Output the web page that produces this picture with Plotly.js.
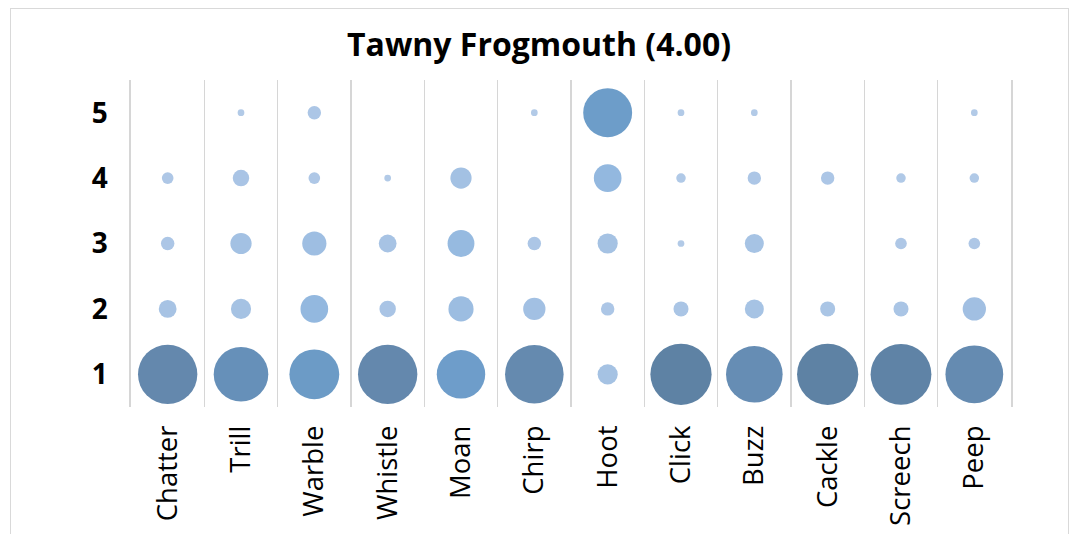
<!DOCTYPE html>
<html>
<head>
<meta charset="utf-8">
<script src="https://cdn.plot.ly/plotly-3.0.1.min.js"></script>
<style>
  html, body { margin: 0; padding: 0; background: #ffffff; }
  #wrap { position: relative; width: 1071px; height: 534px; overflow: hidden; }
  #chart { width: 1071px; height: 534px; }
  #frame { position: absolute; left: 10px; top: 8px; width: 1059px; height: 600px;
           border: 1px solid #d9d9d9; box-sizing: border-box; pointer-events: none; }
</style>
</head>
<body>
<div id="wrap">
  <div id="chart"></div>
  <div id="frame"></div>
</div>
<script>
// ---- data ----
const chartTitle = 'Tawny Frogmouth (4.00)';
const categories = ['Chatter', 'Trill', 'Warble', 'Whistle', 'Moan', 'Chirp',
                    'Hoot', 'Click', 'Buzz', 'Cackle', 'Screech', 'Peep'];
const levels = [1, 2, 3, 4, 5];
// counts per rating level, one value per category
const level1 = [78, 66, 55, 78, 52, 76,  9, 83, 71, 83, 82, 74];
const level2 = [ 7,  9, 17,  6, 14, 11,  4,  5,  8,  5,  5, 12];
const level3 = [ 4, 10, 13,  7, 16,  4,  9,  1,  8,  0,  3,  3];
const level4 = [ 3,  6,  3,  1, 10,  0, 17,  2,  4,  4,  2,  2];
const level5 = [ 0,  1,  4,  0,  0,  1, 53,  1,  1,  0,  0,  1];
const levelCounts = [level1, level2, level3, level4, level5];

// ---- build points ----
const xs = [], ys = [], sizes = [];
levelCounts.forEach((arr, li) => {
  arr.forEach((v, ci) => {
    if (v > 0) { xs.push(categories[ci]); ys.push(levels[li]); sizes.push(v); }
  });
});
const maxCount = Math.max(...sizes);

const trace = {
  type: 'scatter',
  mode: 'markers',
  x: xs,
  y: ys,
  hoverinfo: 'x+y+text',
  text: sizes.map(String),
  marker: {
    size: sizes,
    sizemode: 'area',
    sizeref: 0.0443,
    color: sizes,
    cmin: 0,
    cmax: maxCount,
    colorscale: [
      [0.0, '#b4cbe8'],
      [0.06, '#aac5e5'],
      [0.15, '#a0bfe2'],
      [0.22, '#90b6de'],
      [0.62, '#6e9ecb'],
      [0.80, '#6690b8'],
      [0.93, '#6589ae'],
      [1.0, '#5e82a4']
    ],
    showscale: false,
    opacity: 1,
    line: { width: 0 }
  }
};

const layout = {
  width: 1071,
  height: 534,
  paper_bgcolor: '#ffffff',
  plot_bgcolor: '#ffffff',
  margin: { l: 131, r: 60, t: 80, b: 127 },
  showlegend: false,
  title: {
    text: '<b>' + chartTitle + '</b>',
    font: { family: 'Open Sans, sans-serif', size: 32, color: '#000000' },
    xref: 'container', yref: 'container',
    x: 0.5033, xanchor: 'center',
    y: 0.916, yanchor: 'middle'
  },
  xaxis: {
    type: 'category',
    categoryorder: 'array',
    categoryarray: categories,
    range: [-0.5, categories.length - 0.5],
    tickson: 'boundaries',
    showgrid: true,
    gridcolor: '#d6d6d6',
    gridwidth: 1.6,
    zeroline: false,
    showline: false,
    ticks: '',
    tickangle: -90,
    ticklabelstandoff: 12,
    tickfont: { family: 'Open Sans, sans-serif', size: 27.5, color: '#000000' },
    fixedrange: true
  },
  yaxis: {
    range: [0.5, 5.5],
    tickvals: levels,
    ticktext: levels.map(v => '<b>' + v + '</b>'),
    showgrid: false,
    zeroline: false,
    showline: true,
    mirror: true,
    linecolor: '#d6d6d6',
    linewidth: 1.6,
    ticks: '',
    ticklabelstandoff: 16,
    tickfont: { family: 'Open Sans, sans-serif', size: 28, color: '#000000' },
    fixedrange: true
  }
};

Plotly.newPlot('chart', [trace], layout, { displayModeBar: false, staticPlot: true });
</script>
</body>
</html>
